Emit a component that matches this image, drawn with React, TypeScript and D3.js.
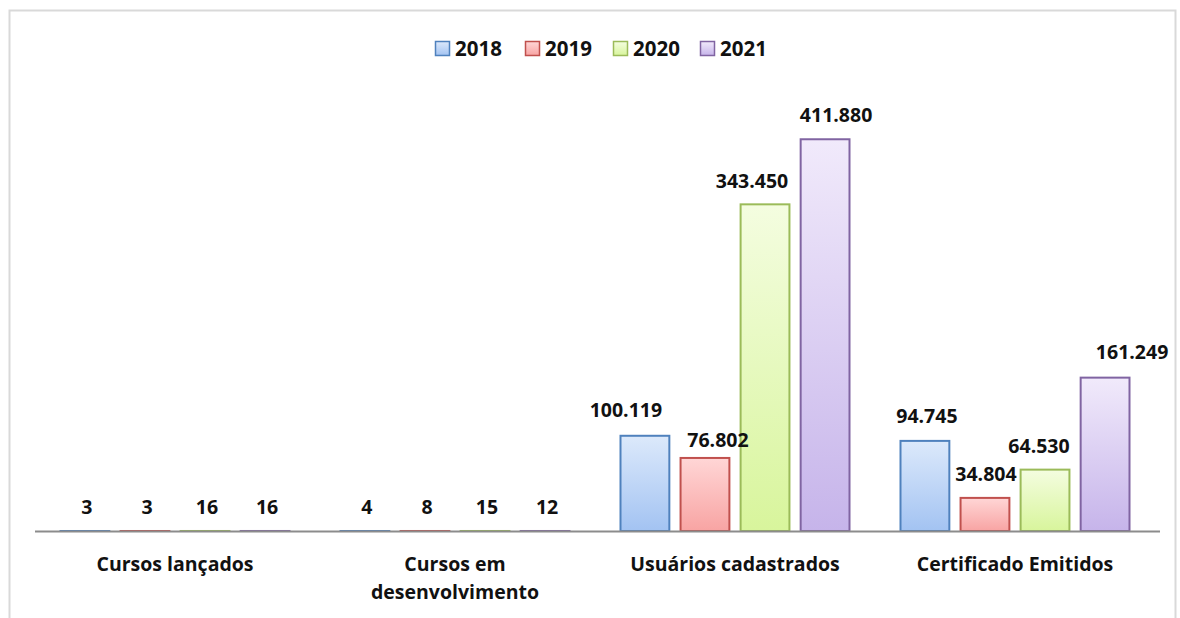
import React, { useRef, useEffect } from "react";
import * as d3 from "d3";

const categories = [
  ["Cursos lançados"],
  ["Cursos em", "desenvolvimento"],
  ["Usuários cadastrados"],
  ["Certificado Emitidos"],
];
const years = ["2018", "2019", "2020", "2021"];

const values2018 = [3, 4, 100119, 94745];
const values2019 = [3, 8, 76802, 34804];
const values2020 = [16, 15, 343450, 64530];
const values2021 = [16, 12, 411880, 161249];

const series = [values2018, values2019, values2020, values2021];

// label nudges (dx, dy) to mimic Excel's overlap avoidance
const labelNudge: Record<string, [number, number]> = {
  "2-0": [-21, -2],
  "2-1": [11, 6],
  "2-2": [-15, 1],
  "2-3": [9, 0],
  "3-0": [0, -1],
  "3-1": [-1, 0],
  "3-2": [-8, 0],
  "3-3": [25, -2],
};

const strokes = ["#4f81bd", "#c0504d", "#9bbb59", "#8064a2"];
const gradTop = ["#dce9fb", "#ffd6d6", "#f4fde0", "#f1eafb"];
const gradBottom = ["#a3c3f2", "#f8a4a3", "#d8f59c", "#c6b4ea"];

const fmt = (v: number) => d3.format(",")(v).replace(/,/g, ".");

const App: React.FC = () => {
  const ref = useRef<SVGSVGElement | null>(null);

  useEffect(() => {
    const svg = d3.select(ref.current);
    svg.selectAll("*").remove();

    const font = "'Open Sans', 'DejaVu Sans', sans-serif";
    const baseY = 531;

    // outer frame
    svg
      .append("rect")
      .attr("x", 9.5)
      .attr("y", 10.5)
      .attr("width", 1166)
      .attr("height", 700)
      .attr("fill", "#fff")
      .attr("stroke", "#d9d9d9")
      .attr("stroke-width", 2);

    const defs = svg.append("defs");
    years.forEach((y, i) => {
      const g = defs
        .append("linearGradient")
        .attr("id", `grad${i}`)
        .attr("x1", 0)
        .attr("y1", 0)
        .attr("x2", 0)
        .attr("y2", 1);
      g.append("stop").attr("offset", "0%").attr("stop-color", gradTop[i]);
      g.append("stop").attr("offset", "100%").attr("stop-color", gradBottom[i]);
    });

    const x0 = d3
      .scaleBand<number>()
      .domain(d3.range(categories.length))
      .range([35, 1155]);

    const x1 = d3.scaleBand<string>().domain(years).range([25, 255]).paddingInner(0.17);

    const y = d3.scaleLinear().domain([0, 450000]).range([baseY, 103]);

    const barLayer = svg.append("g");
    const labelLayer = svg.append("g");

    categories.forEach((_, ci) => {
      const gx = x0(ci) as number;
      years.forEach((yr, si) => {
        const v = series[si][ci];
        const top = y(v);
        const h = Math.max(baseY - top, 0);
        barLayer
          .append("rect")
          .attr("x", gx + (x1(yr) as number) + 0.5)
          .attr("y", top)
          .attr("width", x1.bandwidth() - 1)
          .attr("height", h)
          .attr("fill", `url(#grad${si})`)
          .attr("stroke", strokes[si])
          .attr("stroke-width", 2);

        const nudge = labelNudge[`${ci}-${si}`] || [0, 0];
        labelLayer
          .append("text")
          .attr("x", gx + (x1(yr) as number) + x1.bandwidth() / 2 + 2 + nudge[0])
          .attr("y", top - 17 + nudge[1])
          .attr("text-anchor", "middle")
          .attr("font-family", font)
          .attr("font-weight", "bold")
          .attr("font-size", 19.5)
          .attr("fill", "#111")
          .text(fmt(v));
      });
    });

    // baseline axis
    svg
      .append("line")
      .attr("x1", 35)
      .attr("x2", 1160)
      .attr("y1", baseY + 0.5)
      .attr("y2", baseY + 0.5)
      .attr("stroke", "#8c8c8c")
      .attr("stroke-width", 2);

    // category labels
    categories.forEach((lines, i) => {
      const t = svg
        .append("text")
        .attr("text-anchor", "middle")
        .attr("font-family", font)
        .attr("font-weight", "bold")
        .attr("font-size", 19.5)
        .attr("fill", "#111");
      lines.forEach((ln, li) => {
        t.append("tspan")
          .attr("x", (x0(i) as number) + x0.bandwidth() / 2)
          .attr("y", 571 + li * 28)
          .text(ln);
      });
    });

    // legend
    const legendX = [435, 525, 613, 700];
    const legend = svg.append("g");
    years.forEach((yr, i) => {
      legend
        .append("rect")
        .attr("x", legendX[i] + 0.5)
        .attr("y", 41.5)
        .attr("width", 14)
        .attr("height", 14)
        .attr("fill", `url(#grad${i})`)
        .attr("stroke", strokes[i])
        .attr("stroke-width", 1.5);
      legend
        .append("text")
        .attr("x", legendX[i] + 20)
        .attr("y", 56)
        .attr("font-family", font)
        .attr("font-weight", "bold")
        .attr("font-size", 20.5)
        .attr("fill", "#111")
        .text(yr);
    });
  }, []);

  return (
    <svg
      ref={ref}
      width={1180}
      height={618}
      style={{ position: "absolute", left: 0, top: 0, background: "#fff" }}
    />
  );
};

export default App;
